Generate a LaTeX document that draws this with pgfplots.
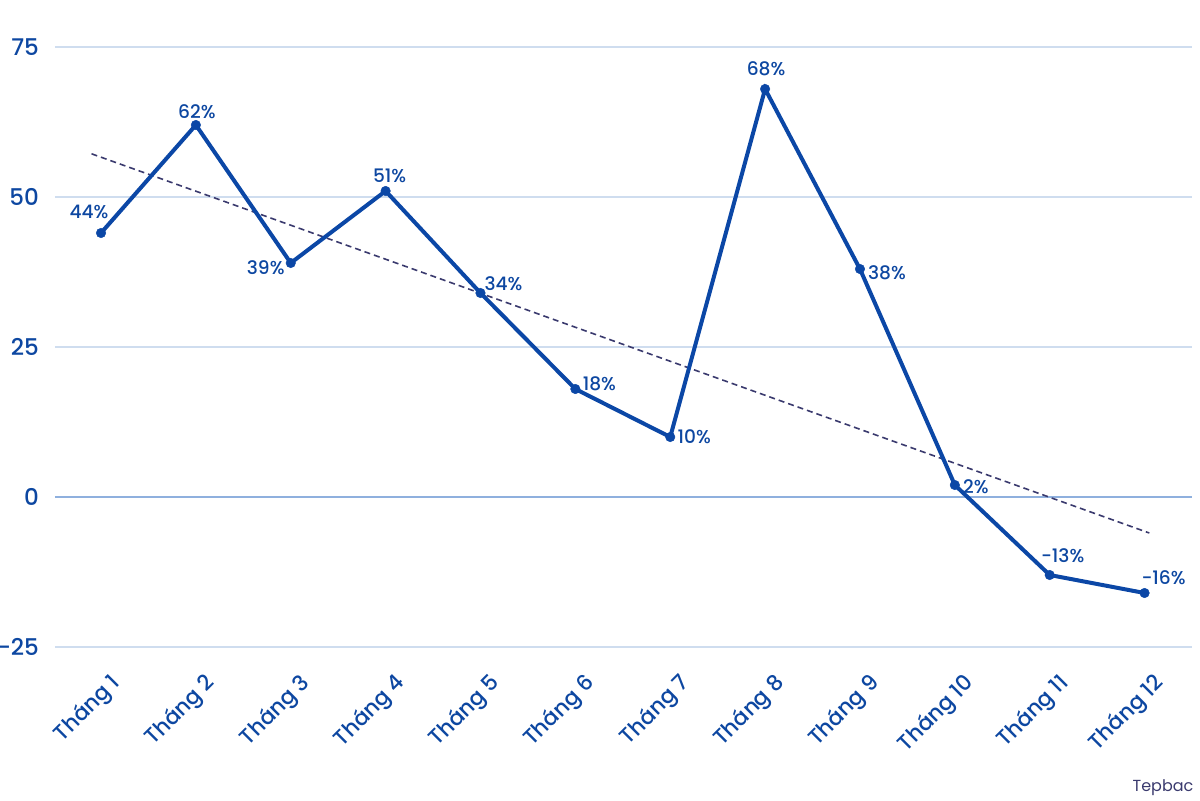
\documentclass[border=0pt]{standalone}
\usepackage{pgfplots}
\usepackage{pgfplotstable}
\pgfplotsset{compat=1.18}
\usepackage{fontspec}
\setmainfont{Poppins}
\newfontfamily\medfont{Poppins Medium}
\definecolor{mainblue}{HTML}{0B47A6}
\definecolor{txtblue}{HTML}{0D47A1}
\definecolor{gridblue}{HTML}{CFDDEF}
\definecolor{zeroblue}{HTML}{8FB0DE}
\definecolor{trend}{HTML}{3A3A6E}
\pgfplotstableread{
x y dx dy lab
1 44 -6 10.5 44\%
2 62 0.5 6.5 62\%
3 39 -12.5 -2.5 39\%
4 51 2 7.5 51\%
5 34 11.5 4.5 34\%
6 18 12 2.5 18\%
7 10 12 0 10\%
8 68 0.5 10 68\%
9 38 13.5 -2 38\%
10 2 10.5 -1 2\%
11 -13 6.5 9.5 -13\%
12 -16 9.5 7.5 -16\%
}\datatable
\pgfplotstableread{
x y
0.9 57.2
12.05 -6
}\trendtable
\begin{document}
\begin{tikzpicture}
\useasboundingbox (-27.5pt,-76.5pt) rectangle (572.5pt,323.5pt);
\begin{axis}[
  scale only axis,
  width=568.5pt, height=300pt,
  xmin=0.515, xmax=12.5,
  ymin=-25, ymax=75,
  axis line style={draw=none},
  ytick={-25,0,25,50,75},
  xtick={1,...,12},
  xticklabels={Tháng 1,Tháng 2,Tháng 3,Tháng 4,Tháng 5,Tháng 6,Tháng 7,Tháng 8,Tháng 9,Tháng 10,Tháng 11,Tháng 12},
  major tick length=0pt,
  /pgf/number format/assume math mode=true,
  yticklabel style={font=\medfont\fontsize{11.5}{12}\selectfont, text=txtblue, anchor=east, xshift=-4.5pt},
  xticklabel style={font=\medfont\fontsize{10.8}{12}\selectfont, text=txtblue, rotate=45, anchor=north east, xshift=-2.5pt, yshift=-8pt},
  clip=false,
]
\foreach \yy in {-25,25,50,75} {
  \edef\tmp{\noexpand\draw[gridblue, line width=0.6pt] (axis cs:0.515,\yy) -- (axis cs:12.5,\yy);}
  \tmp
}
\draw[zeroblue, line width=0.6pt] (axis cs:0.515,0) -- (axis cs:12.5,0);
\addplot[trend, line width=0.8pt, dash pattern=on 3pt off 2pt] table[x=x,y=y] {\trendtable};
\addplot[mainblue, line width=2pt, mark=*, mark size=2.4pt, mark options={solid, fill=mainblue, line width=0.2pt},
  nodes near coords,
  point meta=explicit symbolic,
  visualization depends on={\thisrow{dx} \as \ddx},
  visualization depends on={\thisrow{dy} \as \ddy},
  nodes near coords style={font=\medfont\fontsize{9.3}{10}\selectfont, text=txtblue, anchor=center, xshift=\ddx pt, yshift=\ddy pt, inner sep=0pt},
] table[x=x,y=y,meta=lab] {\datatable};
\end{axis}
\node[font=\fontsize{8}{9}\selectfont, text=trend] at (554pt,-70.5pt) {Tepbac};
\end{tikzpicture}
\end{document}
